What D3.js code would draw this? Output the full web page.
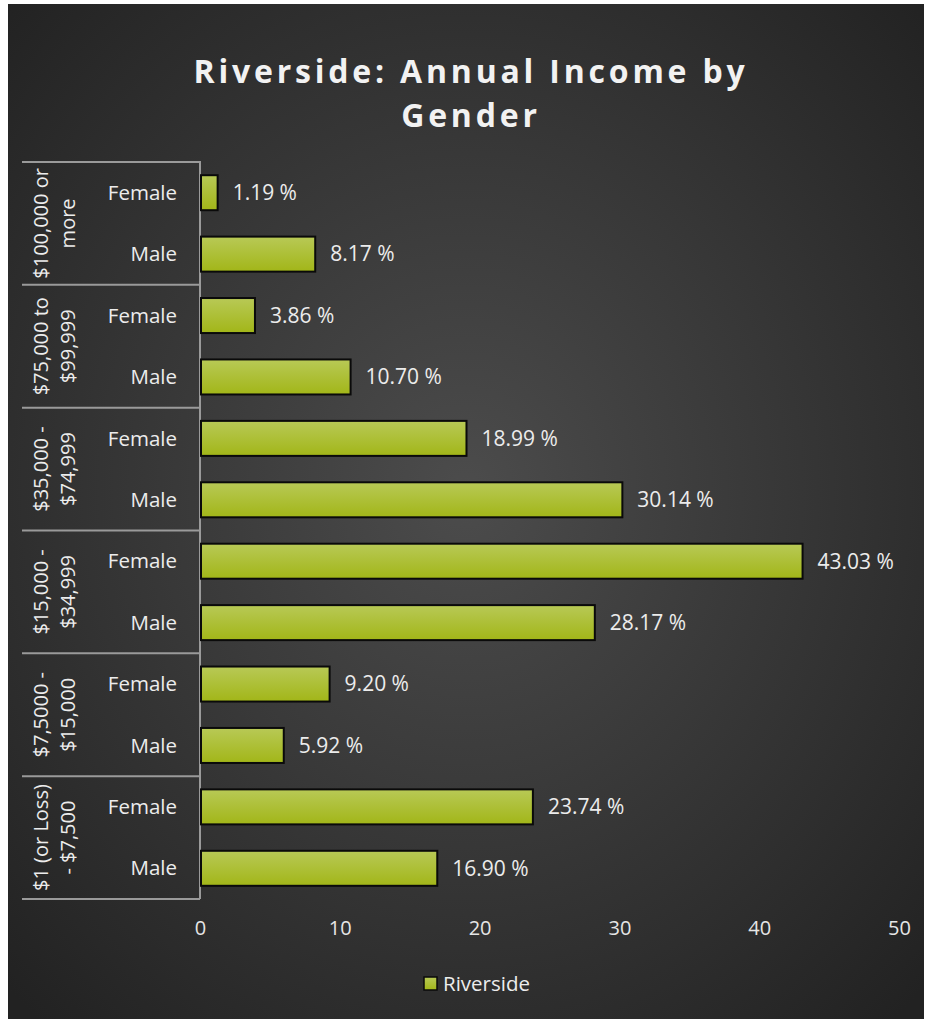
<!DOCTYPE html>
<html>
<head>
<meta charset="utf-8">
<script src="https://cdn.jsdelivr.net/npm/d3@7"></script>
<style>
  html, body { margin: 0; padding: 0; background: #ffffff; }
  svg { display: block; }
  text { font-family: "Open Sans", "DejaVu Sans", sans-serif; }
</style>
</head>
<body>
<svg id="chart" width="926" height="1019"></svg>
<script>
// ---- data ----
const groups = ["$100,000 or more", "$75,000 to $99,999", "$35,000 - $74,999", "$15,000 - $34,999", "$7,5000 - $15,000", "$1 (or Loss) - $7,500"];
const groupLines = [["$100,000 or", "more"], ["$75,000 to", "$99,999"], ["$35,000 -", "$74,999"], ["$15,000 -", "$34,999"], ["$7,5000 -", "$15,000"], ["$1 (or Loss)", "- $7,500"]];
const genders = ["Female", "Male"];
const femaleValues = [1.19, 3.86, 18.99, 43.03, 9.20, 23.74];
const maleValues = [8.17, 10.70, 30.14, 28.17, 5.92, 16.90];
const xTicks = [0, 10, 20, 30, 40, 50];
const seriesName = "Riverside";
const titleLines = ["Riverside: Annual Income by", "Gender"];

// build rows
const rows = [];
groups.forEach((g, i) => {
  rows.push({ key: g + "|Female", group: i, gender: "Female", value: femaleValues[i] });
  rows.push({ key: g + "|Male", group: i, gender: "Male", value: maleValues[i] });
});

const svg = d3.select("#chart");
const W = 926, H = 1019;

const defs = svg.append("defs");
const bg = defs.append("radialGradient").attr("id", "bg")
  .attr("cx", "50%").attr("cy", "48%").attr("r", "70%");
bg.append("stop").attr("offset", "0%").attr("stop-color", "#4c4c4c");
bg.append("stop").attr("offset", "100%").attr("stop-color", "#222222");

const barGrad = defs.append("linearGradient").attr("id", "barGrad")
  .attr("x1", 0).attr("y1", 0).attr("x2", 0).attr("y2", 1);
barGrad.append("stop").attr("offset", "0%").attr("stop-color", "#b8c956");
barGrad.append("stop").attr("offset", "100%").attr("stop-color", "#a2b618");

// chart box
svg.append("rect").attr("x", 8).attr("y", 4).attr("width", 916).attr("height", H - 4)
  .attr("fill", "url(#bg)");

// title (single text element, two lines)
const title = svg.append("text")
  .attr("text-anchor", "middle")
  .attr("fill", "#f2f2f2")
  .attr("font-size", 32).attr("font-weight", "bold")
  .attr("letter-spacing", 3.8);
title.selectAll("tspan").data(titleLines).join("tspan")
  .attr("x", 471).attr("y", (d, i) => 83 + i * 44)
  .text(d => d);

// scales
const x = d3.scaleLinear().domain([0, 50]).range([200, 899]);
const y = d3.scaleBand().domain(rows.map(r => r.key)).range([162, 899])
  .paddingInner(0.43).paddingOuter(0.215);
const groupStep = (899 - 162) / groups.length;

// x axis (labels only)
const xAxis = d3.axisBottom(x).tickValues(xTicks).tickSize(0).tickPadding(0).tickFormat(d3.format("d"));
const gx = svg.append("g").attr("transform", "translate(0,921)").call(xAxis);
gx.select(".domain").remove();
gx.selectAll("text").attr("fill", "#e6e6e6").attr("font-size", 20)
  .attr("font-family", "'Open Sans', sans-serif").attr("dy", "0.7em");

// left axis: category labels
const gy = svg.append("g");
gy.selectAll("text.cat").data(rows).join("text").attr("class", "cat")
  .attr("x", 177).attr("y", d => y(d.key) + y.bandwidth() / 2)
  .attr("dy", "0.35em").attr("text-anchor", "end")
  .attr("fill", "#ececec").attr("font-size", 20.5)
  .text(d => d.gender);

// group separators
const sepY = d3.range(groups.length + 1).map(i => 162 + i * groupStep);
gy.selectAll("line.sep").data(sepY).join("line").attr("class", "sep")
  .attr("x1", 22).attr("x2", 200).attr("y1", d => d).attr("y2", d => d)
  .attr("stroke", "#9a9a9a").attr("stroke-width", 2);
gy.append("line").attr("x1", 200).attr("x2", 200).attr("y1", 161).attr("y2", 899)
  .attr("stroke", "#9a9a9a").attr("stroke-width", 2);

// group labels rotated
groups.forEach((g, i) => {
  const cy = 162 + (i + 0.5) * groupStep;
  const t = gy.append("text")
    .attr("transform", `translate(0,${cy}) rotate(-90)`)
    .attr("text-anchor", "middle").attr("fill", "#ececec").attr("font-size", 20);
  groupLines[i].forEach((ln, j) => {
    t.append("tspan").attr("x", 0).attr("y", 48 + j * 27).text(ln);
  });
});

// bars
svg.append("g").selectAll("rect").data(rows).join("rect")
  .attr("x", x(0) + 1).attr("y", d => y(d.key))
  .attr("width", d => x(d.value) - x(0))
  .attr("height", y.bandwidth())
  .attr("fill", "url(#barGrad)")
  .attr("stroke", "#0a0a0a").attr("stroke-width", 2);

// value labels
svg.append("g").selectAll("text").data(rows).join("text")
  .attr("x", d => x(d.value) + 16).attr("y", d => y(d.key) + y.bandwidth() / 2)
  .attr("dy", "0.35em").attr("fill", "#ececec").attr("font-size", 21)
  .text(d => d3.format(".2f")(d.value) + " %");

// legend
const lg = svg.append("g");
lg.append("rect").attr("x", 424).attr("y", 977).attr("width", 13).attr("height", 13)
  .attr("fill", "url(#barGrad)").attr("stroke", "#0a0a0a").attr("stroke-width", 1.5);
lg.append("text").attr("x", 443).attr("y", 984).attr("dy", "0.35em")
  .attr("fill", "#ececec").attr("font-size", 20.5).text(seriesName);
</script>
</body>
</html>
